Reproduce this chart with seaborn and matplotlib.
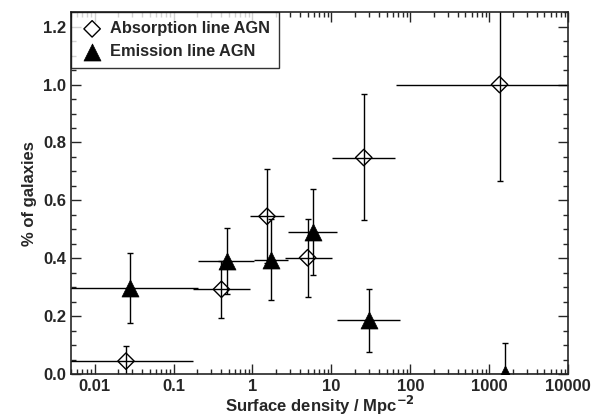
import numpy as np
import pandas as pd
import seaborn as sns
import matplotlib.pyplot as plt
from matplotlib.ticker import FixedLocator, FixedFormatter, MultipleLocator, NullFormatter, FuncFormatter

# Fraction of galaxies hosting AGN vs surface density

# Absorption line AGN (open diamonds)
abs_x = [0.025, 0.405, 1.53, 5.0, 25.7, 1350.0]
abs_y = [0.045, 0.293, 0.545, 0.402, 0.748, 1.0]
abs_xlo = [0.004, 0.179, 0.94, 2.6, 10.3, 66.0]
abs_xhi = [0.175, 0.92, 2.49, 10.2, 64.5, 10000.0]
abs_ylo = [-0.005, 0.194, 0.385, 0.268, 0.533, 0.668]
abs_yhi = [0.098, 0.392, 0.709, 0.536, 0.967, 1.33]

# Emission line AGN (filled triangles)
em_x = [0.0285, 0.478, 1.74, 5.87, 29.6, 1560.0]
em_y = [0.296, 0.392, 0.394, 0.491, 0.187, 0.0]
em_xlo = [0.004, 0.205, 1.06, 2.86, 11.8, 66.0]
em_xhi = [0.205, 1.06, 2.86, 11.8, 74.0, 10000.0]
em_ylo = [0.175, 0.277, 0.256, 0.342, 0.077, 0.0]
em_yhi = [0.417, 0.505, 0.536, 0.639, 0.294, 0.108]

xticks = [0.01, 0.1, 1, 10, 100, 1000, 10000]
xticklabels = ['0.01', '0.1', '1', '10', '100', '1000', '10000']

sns.set_style('ticks')
plt.rcParams['font.family'] = ['Liberation Sans', 'DejaVu Sans']
plt.rcParams['font.weight'] = 'bold'

fig, ax = plt.subplots(figsize=(6, 4.19), dpi=100)
fig.subplots_adjust(left=0.118, right=0.947, bottom=0.107, top=0.971)


def draw_errors(ax, x, y, xlo, xhi, ylo, yhi):
    x = np.array(x)
    y = np.array(y)
    xerr = [x - np.array(xlo), np.array(xhi) - x]
    yerr = [y - np.array(ylo), np.array(yhi) - y]
    ax.errorbar(x, y, xerr=xerr, fmt='none', ecolor='black', elinewidth=1.0, capsize=0)
    ax.errorbar(x, y, yerr=yerr, fmt='none', ecolor='black', elinewidth=1.0,
                capsize=2.5, capthick=1.0)


draw_errors(ax, abs_x, abs_y, abs_xlo, abs_xhi, abs_ylo, abs_yhi)
draw_errors(ax, em_x, em_y, em_xlo, em_xhi, em_ylo, em_yhi)

dfa = pd.DataFrame({'x': abs_x, 'y': abs_y})
dfe = pd.DataFrame({'x': em_x, 'y': em_y})
sns.scatterplot(data=dfa, x='x', y='y', ax=ax, marker='D', s=70, facecolor='none',
                edgecolor='black', linewidth=1.0, label='Absorption line AGN', zorder=3)
sns.scatterplot(data=dfe, x='x', y='y', ax=ax, marker='^', s=150, color='black',
                edgecolor='black', linewidth=0.5, label='Emission line AGN', zorder=3)

ax.set_xscale('log')
ax.set_xlim(0.005, 10000)
ax.set_ylim(0.0, 1.25)
minors = [m * 10.0 ** e for e in range(-3, 4) for m in range(2, 10)]
ax.xaxis.set_major_locator(FixedLocator(xticks))
ax.xaxis.set_major_formatter(FixedFormatter(xticklabels))
ax.xaxis.set_minor_locator(FixedLocator([m for m in minors if 0.005 <= m <= 10000]))
ax.xaxis.set_minor_formatter(NullFormatter())
ax.yaxis.set_major_locator(MultipleLocator(0.2))
ax.yaxis.set_minor_locator(MultipleLocator(0.05))
ax.yaxis.set_major_formatter(FuncFormatter(lambda v, p: '%.1f' % v))

ax.tick_params(which='both', direction='in', top=True, right=True, labelsize=12, width=1)
ax.tick_params(which='major', length=7)
ax.tick_params(which='minor', length=3.5)
for lab in ax.get_xticklabels() + ax.get_yticklabels():
    lab.set_fontweight('bold')
for sp in ax.spines.values():
    sp.set_linewidth(1.2)

ax.set_xlabel('Surface density / Mpc$^{\\mathbf{-2}}$', fontsize=12, fontweight='bold', labelpad=0)
ax.set_ylabel('% of galaxies', fontsize=12, fontweight='bold', labelpad=4)

leg = ax.legend(loc='upper left', frameon=True, fancybox=False, borderaxespad=0,
                fontsize=11.8, handletextpad=0.35, borderpad=0.55, labelspacing=0.5,
                handlelength=1.5)
leg.get_frame().set_edgecolor('black')
leg.get_frame().set_linewidth(1.0)
for t in leg.get_texts():
    t.set_fontweight('bold')

fig.savefig('out.png', dpi=100)
